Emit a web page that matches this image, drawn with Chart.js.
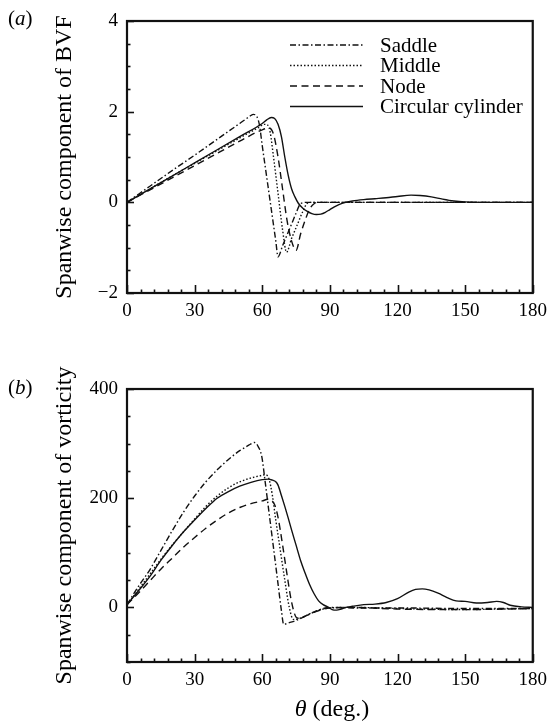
<!DOCTYPE html>
<html><head><meta charset="utf-8">
<script src="https://cdn.jsdelivr.net/npm/chart.js@4/dist/chart.umd.min.js"></script>
<style>
html,body{margin:0;padding:0;background:#fff;}
body{width:554px;height:724px;position:relative;overflow:hidden;font-family:'Liberation Serif',serif;}
canvas{position:absolute;left:0;}
.lab{position:absolute;font-family:'Liberation Serif',serif;color:#000;white-space:nowrap;}
</style></head><body>
<canvas id="c1" width="554" height="340" style="top:0px"></canvas>
<canvas id="c2" width="554" height="364" style="top:360px"></canvas>
<div class="lab" style="left:8px;top:6px;font-size:21px;line-height:24px">(<i>a</i>)</div>
<div class="lab" style="left:8px;top:375px;font-size:21px;line-height:24px">(<i>b</i>)</div>
<div class="lab" style="left:127px;width:410px;text-align:center;top:695px;font-size:24px;line-height:26px"><i>θ</i> (deg.)</div>
<script>
// ---------- data: panel (a) spanwise component of BVF ----------
const seriesNames = ['Saddle', 'Middle', 'Node', 'Circular cylinder'];

const saddleBvfTheta = [0, 10, 20, 30, 40, 50, 54, 56, 57.5, 58.7, 60, 62, 64, 66, 67, 69, 71, 73, 75, 77, 80, 90, 120, 150, 180];
const saddleBvfValue = [0, 0.35, 0.70, 1.04, 1.39, 1.74, 1.88, 1.94, 1.9, 1.72, 1.25, 0.55, -0.15, -0.85, -1.2, -0.96, -0.72, -0.48, -0.24, -0.03, 0, 0, 0, 0, 0];

const middleBvfTheta = [0, 10, 20, 30, 40, 50, 58, 61, 62.5, 63.5, 65, 67, 69, 70.8, 73, 75.5, 78, 80, 82, 90, 120, 150, 180];
const middleBvfValue = [0, 0.29, 0.58, 0.86, 1.14, 1.42, 1.64, 1.72, 1.7, 1.55, 1.0, 0.2, -0.6, -1.1, -0.8, -0.5, -0.2, -0.02, 0, 0, 0, 0, 0];

const nodeBvfTheta = [0, 10, 20, 30, 40, 50, 60, 63, 65, 67, 69, 71, 73, 75, 77, 79, 81, 83, 85, 90, 120, 150, 180];
const nodeBvfValue = [0, 0.27, 0.54, 0.81, 1.08, 1.35, 1.6, 1.64, 1.5, 1.0, 0.3, -0.4, -0.85, -1.06, -0.7, -0.4, -0.15, -0.03, 0, 0, 0, 0, 0];

const cylBvfTheta = [0, 10, 20, 30, 40, 50, 60, 62, 64, 65.5, 67, 68.5, 70, 71.5, 73, 74.5, 76, 78, 80, 82, 84, 86, 88, 90, 92, 94, 97, 100, 105, 110, 115, 120, 126, 130, 135, 140, 145, 150, 160, 180];
const cylBvfValue = [0, 0.29, 0.58, 0.87, 1.16, 1.45, 1.74, 1.82, 1.87, 1.85, 1.72, 1.45, 1.0, 0.6, 0.3, 0.12, -0.02, -0.13, -0.2, -0.25, -0.27, -0.26, -0.22, -0.16, -0.1, -0.05, 0, 0.03, 0.06, 0.08, 0.1, 0.13, 0.16, 0.15, 0.12, 0.07, 0.03, 0.01, 0, 0];

// ---------- data: panel (b) spanwise component of vorticity ----------
const saddleVortTheta = [0, 5, 10, 15, 20, 25, 30, 35, 40, 45, 50, 54, 56.5, 58, 59.8, 61.2, 63, 65, 67, 68.5, 69.5, 72, 75, 80, 85, 88, 90, 100, 120, 150, 180];
const saddleVortValue = [5, 38, 68, 104, 140, 174, 204, 230, 252, 271, 287, 297, 302, 296, 276, 233, 174, 109, 43, -6, -31, -28, -24, -14, -5, -1, 0, -1, -1, -2, -2];

const middleVortTheta = [0, 5, 10, 15, 20, 25, 30, 35, 40, 45, 50, 55, 59, 61.5, 63, 64.5, 66, 68, 70, 72, 73.8, 76, 79, 82, 86, 90, 100, 120, 150, 165, 180];
const middleVortValue = [5, 32, 60, 88, 114, 138, 162, 185, 204, 219, 230, 237, 241, 243, 235, 205, 160, 105, 50, 0, -22, -21, -16, -10, -4, -1, 0, -2, -4, -3, -2];

const nodeVortTheta = [0, 5, 10, 15, 20, 25, 30, 35, 40, 45, 50, 55, 60, 62.5, 64, 65.5, 67, 69, 71, 73, 75, 76, 79, 83, 87, 90, 100, 120, 150, 180];
const nodeVortValue = [5, 26, 48, 70, 90, 110, 128, 145, 160, 173, 183, 190, 195, 198, 196, 188, 165, 115, 60, 10, -18, -20, -16, -9, -3, -1, 0, -3, -4, -2];

const cylVortTheta = [0, 5, 10, 15, 20, 25, 30, 35, 40, 45, 50, 55, 60, 62.7, 64.5, 66, 67, 68.5, 70, 71.5, 73, 75, 77, 79, 81, 83, 85, 87, 89, 91, 93, 95, 97, 100, 105, 110, 115, 120, 125, 128, 131, 134, 138, 142, 146, 150, 155, 160, 164, 167, 170, 175, 180];
const cylVortValue = [5, 30, 56, 86, 113, 138, 160, 181, 200, 212, 222, 229, 234, 235, 233, 230, 224, 205, 185, 164, 142, 114, 86, 63, 42, 25, 12, 5, 1, -4, -5, -3, 0, 2, 5, 6, 9, 16, 28, 33, 34, 32, 26, 18, 12, 11, 8, 9, 11, 9, 4, 1, 0];

// ---------- tick labels ----------
const xTickLabels = [0, 30, 60, 90, 120, 150, 180];
const bvfTickLabels = [-2, 0, 2, 4];
const vortTickLabels = [0, 200, 400];

const FONT = "'Liberation Serif', 'Times New Roman', serif";
const styles = [
  {dash: [6, 2.5, 1.5, 2.5]},
  {dash: [1.5, 2]},
  {dash: [7, 4.5]},
  {dash: []}
];

function pts(t, v) { return t.map((x, i) => ({x: x, y: v[i]})); }
function fmt(v) { return v < 0 ? '\u2212' + Math.abs(v) : String(v); }

const frameTicks = {
  id: 'frameTicks',
  afterDraw(chart, args, opts) {
    const {ctx, chartArea: a, scales} = chart;
    const majors = opts.majors || [];
    ctx.save();
    ctx.strokeStyle = '#111';
    ctx.lineWidth = 1.6;
    const xs = scales.x;
    xs.ticks.forEach(t => {
      const px = Math.round(xs.getPixelForValue(t.value)) + 0.5;
      const major = xTickLabels.includes(t.value);
      const len = major ? 8 : 3.5;
      ctx.beginPath(); ctx.moveTo(px, a.bottom); ctx.lineTo(px, a.bottom - len); ctx.stroke();
    });
    const ys = scales.y;
    ys.ticks.forEach(t => {
      const py = Math.round(ys.getPixelForValue(t.value)) + 0.5;
      const major = majors.includes(t.value);
      const len = major ? 7 : 3.5;
      ctx.beginPath(); ctx.moveTo(a.left, py); ctx.lineTo(a.left + len, py); ctx.stroke();
    });
    ctx.lineWidth = 2.2;
    ctx.strokeRect(a.left, a.top, a.right - a.left, a.bottom - a.top);
    ctx.restore();
  }
};

const legendPlugin = {
  id: 'customLegend',
  afterDraw(chart, args, opts) {
    if (!opts.show) return;
    const ctx = chart.ctx;
    ctx.save();
    ctx.font = "21px " + FONT;
    ctx.fillStyle = '#000';
    ctx.textBaseline = 'middle';
    const rows = [45, 65.5, 86, 106.5];
    seriesNames.forEach((n, i) => {
      ctx.strokeStyle = '#111';
      ctx.lineWidth = 1.4;
      ctx.setLineDash(styles[i].dash);
      ctx.beginPath(); ctx.moveTo(290, rows[i]); ctx.lineTo(363, rows[i]); ctx.stroke();
      ctx.setLineDash([]);
      ctx.fillText(n, 380, rows[i] + 1);
    });
    ctx.restore();
  }
};

function makeChart(id, sets, ymin, ymax, ystep, majors, title, padTop, xHeight, legend) {
  const ctx = document.getElementById(id);
  return new Chart(ctx, {
    type: 'line',
    data: {
      datasets: sets.map((d, i) => ({
        label: seriesNames[i],
        data: d,
        borderColor: '#111',
        borderWidth: 1.4,
        borderDash: styles[i].dash,
        pointRadius: 0,
        fill: false,
        cubicInterpolationMode: 'monotone'
      }))
    },
    options: {
      responsive: false,
      animation: false,
      devicePixelRatio: 1,
      layout: {padding: {top: padTop, right: 17, left: 0, bottom: 0}},
      plugins: {
        legend: {display: false}, tooltip: {enabled: false},
        frameTicks: {majors: majors},
        customLegend: {show: legend}
      },
      scales: {
        x: {
          type: 'linear', min: 0, max: 180,
          grid: {display: false, drawTicks: false},
          border: {display: false},
          ticks: {
            stepSize: 6, autoSkip: false, maxRotation: 0, padding: 7,
            color: '#000', font: {family: FONT, size: 19},
            callback: v => xTickLabels.includes(v) ? String(v) : ''
          },
          afterFit: s => { s.height = xHeight; }
        },
        y: {
          type: 'linear', min: ymin, max: ymax,
          grid: {display: false, drawTicks: false},
          border: {display: false},
          ticks: {
            stepSize: ystep, autoSkip: false, padding: 9,
            color: '#000', font: {family: FONT, size: 19},
            callback: v => majors.includes(v) ? fmt(v) : ''
          },
          title: {display: true, text: title, color: '#000',
                  font: {family: FONT, size: 24}, padding: {top: 50, bottom: 0}},
          afterFit: s => { s.width = 127; }
        }
      }
    },
    plugins: [frameTicks, legendPlugin]
  });
}

makeChart('c1', [pts(saddleBvfTheta, saddleBvfValue), pts(middleBvfTheta, middleBvfValue),
                 pts(nodeBvfTheta, nodeBvfValue), pts(cylBvfTheta, cylBvfValue)],
          -2, 4, 0.5, bvfTickLabels, 'Spanwise component of BVF', 21, 47, true);
makeChart('c2', [pts(saddleVortTheta, saddleVortValue), pts(middleVortTheta, middleVortValue),
                 pts(nodeVortTheta, nodeVortValue), pts(cylVortTheta, cylVortValue)],
          -100, 400, 50, vortTickLabels, 'Spanwise component of vorticity', 29, 62, false);
</script>
</body></html>
